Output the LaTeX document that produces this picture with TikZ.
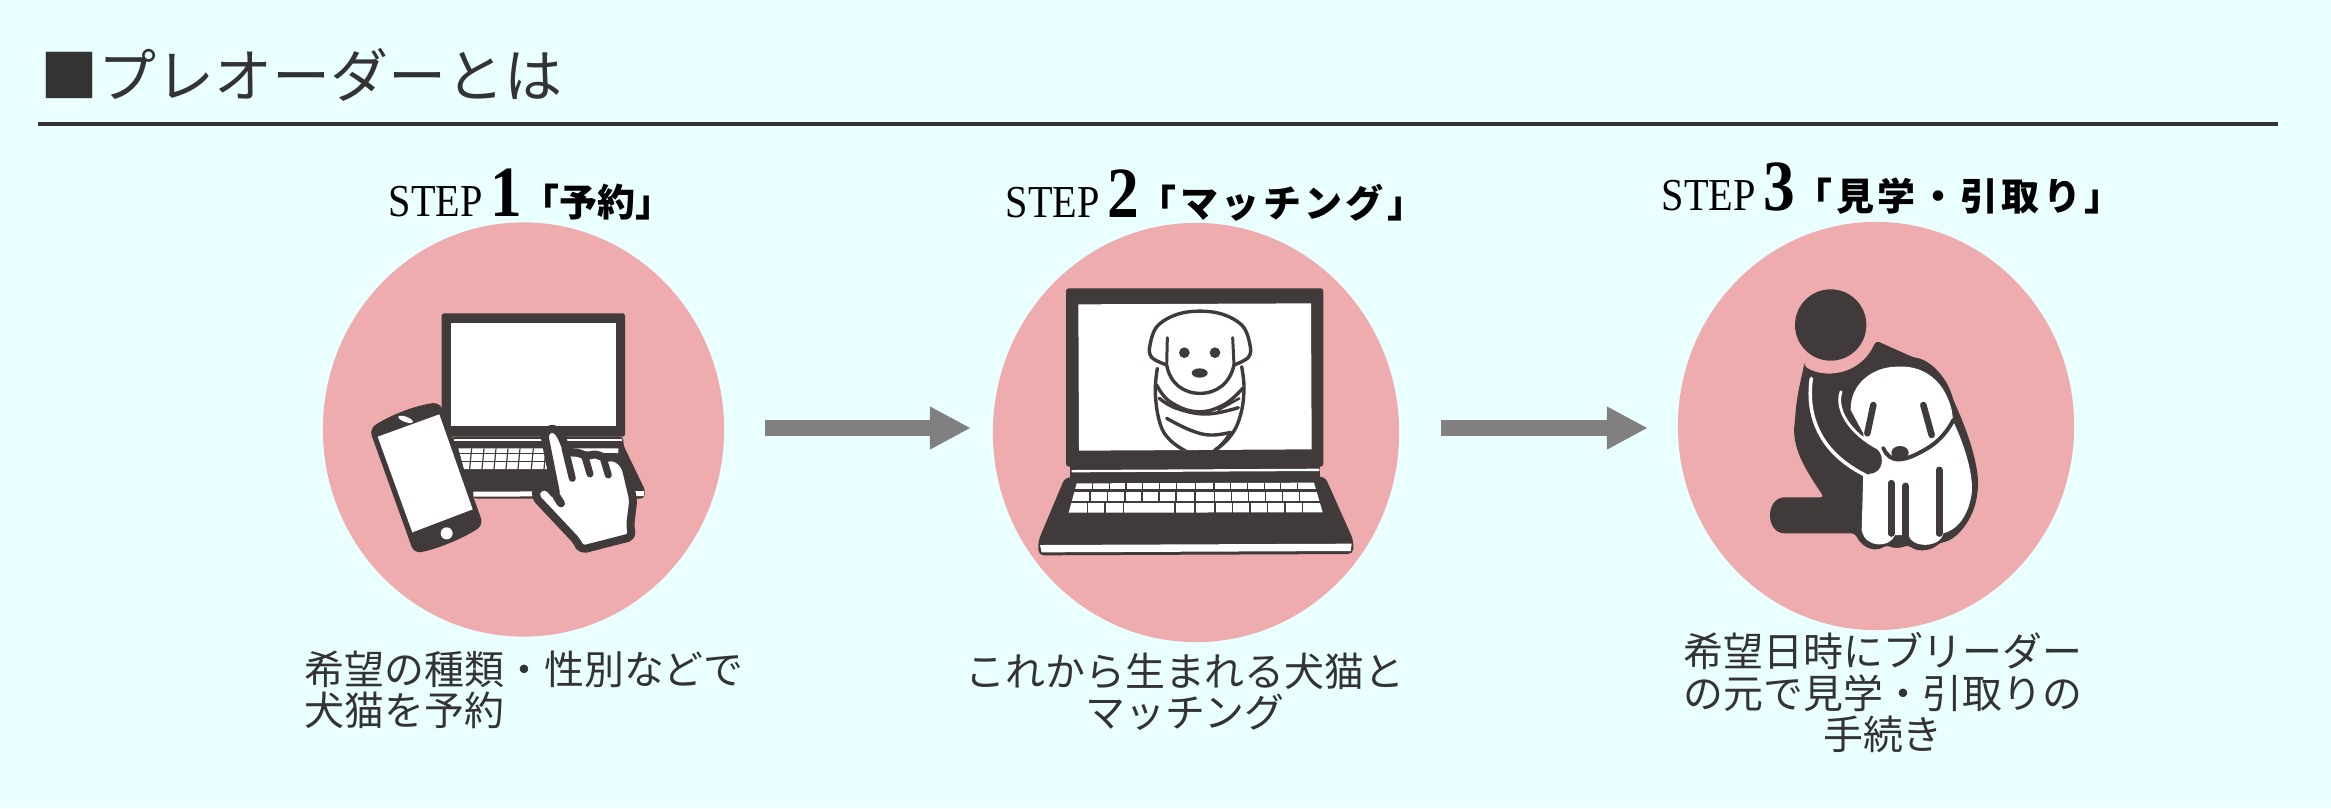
\documentclass[tikz,border=0pt]{standalone}
\usepackage{fontspec}
\setmainfont{Liberation Serif}
\newfontfamily\jpfont{Noto Sans CJK JP}
\newfontfamily\jpwide[LetterSpace=9]{Noto Sans CJK JP}
\newfontfamily\stepfont[FakeStretch=0.88]{Liberation Serif}
\usepackage{tikz}
\usetikzlibrary{arrows.meta,shapes.geometric}
\definecolor{bgcyan}{HTML}{EAFFFF}
\definecolor{pinkdisc}{HTML}{EFACAE}
\definecolor{icondark}{HTML}{403A3A}
\definecolor{textdark}{HTML}{333333}
\definecolor{arrowgray}{HTML}{808080}
\newcommand{\stepword}[1]{{\stepfont\fontsize{13}{13}\selectfont STEP\,}{\stepfont\bfseries\fontsize{20.5}{20.5}\selectfont #1}}
\tikzset{
    disc/.style={ellipse, fill=pinkdisc, inner sep=0pt, outer sep=0pt},
    flowarrow/.style={line width=0.16cm, arrowgray, -{Triangle[length=0.41cm,width=0.4cm]}},
    steplabel/.style={anchor=base west, inner sep=0pt, text=black, font=\fontsize{10.8}{13}\selectfont},
    bodytext/.style={inner sep=0pt, text=textdark, font=\jpfont\fontsize{11.35}{11.8}\selectfont},
    inkfill/.style={fill=icondark, draw=none},
    paper/.style={fill=white, draw=none},
    inkline/.style={draw=icondark, line cap=round, line join=round},
}
\begin{document}
\begin{tikzpicture}[x=0.01cm,y=-0.01cm]
    \fill[bgcyan] (0,0) rectangle (2331,808);

    % Heading
    \node[anchor=base west, inner sep=0pt, text=textdark, font=\jpfont\fontsize{16.5}{16.5}\selectfont] (heading) at (40,97) {■プレオーダーとは};
    \coordinate (ruleL) at (38,124);
    \coordinate (ruleR) at (2278,124);
    \draw[line width=0.04cm, textdark] (ruleL) -- (ruleR);

    % Discs
    \node[disc, minimum width=4.01cm, minimum height=4.14cm] (discA) at (523.5,429.5) {};
    \node[disc, minimum width=4.06cm, minimum height=4.19cm] (discB) at (1196,432.5) {};
    \node[disc, minimum width=3.96cm, minimum height=4.08cm] (discC) at (1876,426) {};

    % Step labels
    \node[steplabel] (labelA) at (388,216) {\stepword{1}{\jpfont\bfseries「予約」}};
    \node[steplabel] (labelB) at (1005,217) {\stepword{2}{\jpwide\bfseries「マッチング」}};
    \node[steplabel] (labelC) at (1661,210) {\stepword{3}{\jpwide\bfseries「見学・引取り」}};

    % Arrows between the discs
    \coordinate (arrowline) at (0,428);
    \draw[flowarrow, shorten <=0.41cm, shorten >=0.22cm] (discA.east |- arrowline) -- (discB.west |- arrowline);
    \draw[flowarrow, shorten <=0.42cm, shorten >=0.30cm] (discB.east |- arrowline) -- (discC.west |- arrowline);

    % Texts under the discs
    \node[bodytext, anchor=north west, align=left] (textA) at (304,650) {希望の種類・性別などで\\犬猫を予約};
    \node[bodytext, anchor=north, align=center] (textB) at (1185,652) {これから生まれる犬猫と\\マッチング};
    \node[bodytext, anchor=north, align=center] (textC) at (1883,632) {希望日時にブリーダー\\の元で見学・引取りの\\手続き};

    % Laptop, phone and hand
    \begin{scope}[shift={(340,280)},scale=1/3]
        \fill[inkfill, rounded corners=0.5pt] (305,100) -- (855,100) -- (855,470) -- (305,470) -- cycle;
        \fill[paper] (332,130) rectangle (828,437);
        \fill[inkfill, rounded corners=1pt] (335,470) -- (850,470) -- (850,495) -- (916,632) -- (912,656) -- (400,656) -- (360,560) -- cycle;
        \fill[paper] (342,476) rectangle (845,483);
        \fill[paper] (400,635) -- (912,633) -- (912,648) -- (400,650) -- cycle;
        \fill[paper] (355,505) -- (835,505) -- (835,522) -- (700,567) -- (372,567) -- cycle;
        \foreach \rowy in {521,544} {
            \draw[icondark, line width=0.012cm] (350,\rowy) -- (840,\rowy);
        }
        \foreach \keyx in {395,432,468,504,540,580,618} {
            \draw[icondark, line width=0.012cm] (\keyx,505) -- (\keyx-6,567);
        }
        % phone
        \fill[inkfill, rounded corners=2pt] (88,447) .. controls (150,405) and (230,375) .. (300,367) -- (430,735) .. controls (370,775) and (290,808) .. (222,820) -- cycle;
        \fill[paper] (113,470) -- (298,403) -- (398,688) -- (217,757) -- cycle;
        \fill[paper, rotate around={-20:(197,418)}] (197,418) ellipse (23 and 8);
        \fill[paper] (320,760) circle (18);
        % hand
        \draw[inkline, fill=white, line width=0.08cm, rounded corners=1.5pt] (612,460) -- (637,440) -- (660,460) -- (685,520) -- (712,515) -- (738,530) -- (770,520) -- (790,535) -- (825,530) -- (855,555) -- (880,660) -- (870,740) -- (878,770) -- (722,810) -- (712,785) -- (585,650) -- (592,625) -- (620,615) -- (650,650) -- cycle;
        \draw[inkline, line width=0.08cm] (650,650) -- (663,670);
        \draw[inkline, line width=0.07cm] (697,595) -- (675,505);
        \draw[inkline, line width=0.07cm] (750,582) -- (735,530);
        \draw[inkline, line width=0.07cm] (805,585) -- (790,535);
    \end{scope}

    % Laptop with the puppy
    \begin{scope}[shift={(1010,270)},scale=1/3]
        \fill[inkfill, rounded corners=0.8pt] (168,55) -- (940,55) -- (940,590) -- (168,590) -- cycle;
        \fill[paper] (205,103) -- (903,100) -- (905,538) -- (207,542) -- cycle;
        \fill[inkfill] (180,588) rectangle (930,625);
        \fill[paper] (185,600) -- (928,596) -- (928,603) -- (185,607) -- cycle;
        \fill[inkfill, rounded corners=1.5pt] (165,622) -- (945,620) -- (1030,810) -- (1030,852) -- (85,856) -- (85,812) -- cycle;
        \fill[paper] (90,825) -- (1025,821) -- (1022,843) -- (95,847) -- cycle;
        % keys
        \fill[paper] (200,640) -- (912,638) -- (938,727) -- (176,728) -- cycle;
        \fill[inkfill] (150,658) rectangle (960,665);
        \fill[inkfill] (150,692) rectangle (960,698);
        \foreach \keyx in {248,298,348,398,448,500,556,612,662,712,764,812,862} {
            \draw[icondark, line width=0.015cm] (\keyx,640) -- (\keyx,658);
        }
        \foreach \keyx in {240,292,345,396,447,498,555,613,665,715,767,818,868} {
            \draw[icondark, line width=0.015cm] (\keyx,665) -- (\keyx,692);
        }
        \foreach \keyx in {232,285,340,495,555,615,668,720,772,825,878} {
            \draw[icondark, line width=0.015cm] (\keyx,698) -- (\keyx,728);
        }
        % puppy in its wrap
        \begin{scope}
            \clip (205,103) rectangle (905,538);
            \draw[inkline, line width=0.034cm] plot[smooth, tension=0.7] coordinates {
                (442,295) (436,370) (450,460) (480,510) (530,545)
            };
            \draw[inkline, line width=0.034cm] plot[smooth, tension=0.7] coordinates {
                (695,290) (702,360) (690,440) (660,500) (610,545)
            };
            \draw[inkline, line width=0.034cm] plot[smooth, tension=0.7] coordinates {
                (440,345) (480,395) (560,425) (640,405) (698,355)
            };
            \draw[inkline, line width=0.034cm] plot[smooth, tension=0.7] coordinates {
                (448,385) (500,415) (590,432) (685,413)
            };
            \draw[inkline, line width=0.025cm] (625,420) -- (688,385);
            \draw[inkline, line width=0.034cm] plot[smooth, tension=0.7] coordinates {
                (470,445) (540,480) (600,495) (662,487)
            };
            \draw[inkline, line width=0.034cm] (660,490) .. controls (645,515) and (630,530) .. (615,540);
        \end{scope}
        \draw[inkline, line width=0.034cm, fill=white] plot[smooth, tension=0.6] coordinates {
            (470,285) (425,262) (420,225) (445,165) (520,128) (620,128) (695,165) (720,225) (715,262) (672,285)
        } -- (672,285) .. controls (660,340) and (620,370) .. (570,370) .. controls (520,370) and (480,340) .. (470,285) -- cycle;
        \draw[inkline, line width=0.03cm] (472,203) -- (470,285);
        \draw[inkline, line width=0.03cm] (668,203) -- (672,285);
        \fill[icondark] (523,248) circle (16);
        \fill[icondark] (615,248) circle (16);
        \fill[icondark] (569,309) ellipse (24 and 14);
    \end{scope}

    % Person hugging a dog
    \begin{scope}[shift={(1740,270)},scale=1/3]
        \fill[icondark] (272,165) circle (107);
        \fill[inkfill, rounded corners=1pt] (192,288) .. controls (250,325) and (360,320) .. (408,212) -- (520,262) .. controls (570,270) and (620,320) .. (640,390) .. controls (690,500) and (720,600) .. (712,670) .. controls (700,750) and (650,810) .. (600,818) .. controls (570,845) and (530,845) .. (505,825) .. controls (480,835) and (460,835) .. (440,825) .. controls (410,845) and (370,840) .. (345,790) -- (145,790) .. controls (75,790) and (75,682) .. (145,682) -- (252,682) .. controls (190,590) and (155,530) .. (165,450) .. controls (170,380) and (180,340) .. (192,288) -- cycle;
        % dog
        \fill[paper] (332,420) .. controls (330,340) and (400,290) .. (470,290) .. controls (540,285) and (610,320) .. (635,420) -- (640,455) .. controls (680,540) and (700,620) .. (695,670) .. controls (685,740) and (650,780) .. (610,790) .. controls (600,835) and (515,835) .. (505,795) -- (465,795) .. controls (450,835) and (375,835) .. (365,780) -- (370,600) -- (370,490) -- cycle;
        \draw[inkline, line width=0.065cm] (400,405) -- (382,490);
        \draw[inkline, line width=0.065cm] (550,405) -- (575,495);
        \draw[inkline, line width=0.04cm] (430,535) .. controls (450,580) and (490,580) .. (570,530) .. controls (600,510) and (625,480) .. (640,450);
        \fill[icondark] (480,548) ellipse (26 and 20);
        \draw[inkline, line width=0.07cm] (453,640) -- (453,790);
        \draw[inkline, line width=0.07cm] (497,648) -- (497,795);
        \draw[inkline, line width=0.07cm] (597,600) -- (597,790);
        % arm
        \fill[inkfill] (300,365) .. controls (295,440) and (340,490) .. (415,535) .. controls (440,575) and (430,620) .. (375,612) -- (240,520) -- cycle;
        \draw[white, line width=0.035cm, line cap=round] (214,325) .. controls (200,420) and (225,540) .. (375,615);
        \draw[white, line width=0.028cm, line cap=round] (303,365) .. controls (285,420) and (330,490) .. (415,535) .. controls (440,555) and (435,615) .. (390,615);
    \end{scope}
\end{tikzpicture}
\end{document}
